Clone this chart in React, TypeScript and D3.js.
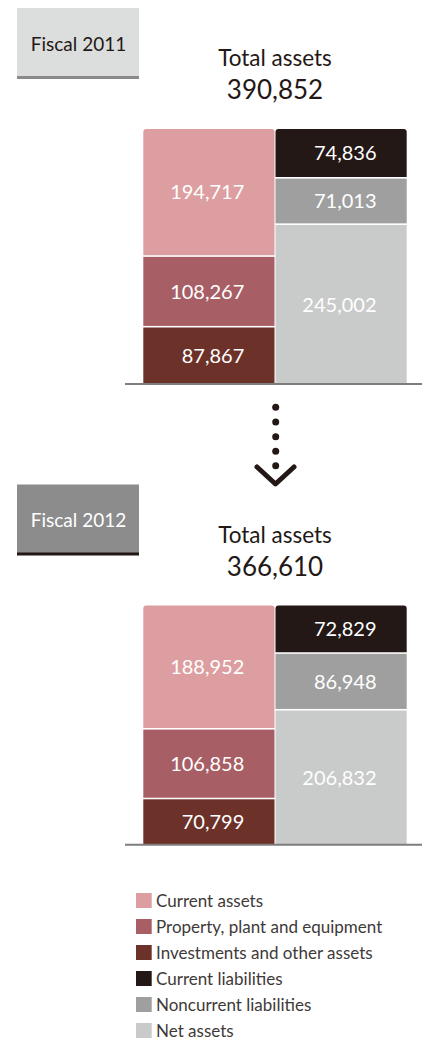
import React from "react";
import * as d3 from "d3";

const years = ["Fiscal 2011", "Fiscal 2012"];
const totals = [390852, 366610];
const assetCategories = ["Current assets", "Property, plant and equipment", "Investments and other assets"];
const liabCategories = ["Current liabilities", "Noncurrent liabilities", "Net assets"];
const currentAssets = [194717, 188952];
const ppe = [108267, 106858];
const investments = [87867, 70799];
const currentLiabilities = [74836, 72829];
const noncurrentLiabilities = [71013, 86948];
const netAssets = [245002, 206832];

const assetColors = ["#dc9ea0", "#a85e65", "#6c3229"];
const liabColors = ["#231816", "#9f9f9f", "#c9caca"];
const legendItems = [...assetCategories, ...liabCategories];
const legendColors = [...assetColors, ...liabColors];

const FONT = "Lato, 'Open Sans', sans-serif";
const fmt = d3.format(",");

function topRoundedPath(x: number, y: number, w: number, h: number, r: number) {
  return `M${x},${y + r}Q${x},${y} ${x + r},${y}H${x + w - r}Q${x + w},${y} ${x + w},${y + r}V${y + h}H${x}Z`;
}

export default function App() {
  const W = 431, H = 1041;
  const panelOffsets = [0, 476.5];
  const hScale = d3.scaleLinear().domain([0, 400000]).range([0, 261]);
  const xBand = d3.scaleBand<string>().domain(["assets", "liabilities"]).range([143.3, 406.7]).paddingInner(0.0077);
  const gap = 0.8;

  const panels = years.map((yr, i) => {
    const off = panelOffsets[i];
    const barTop = off + 129;
    const stacks = [
      { key: "assets", vals: [currentAssets[i], ppe[i], investments[i]], colors: assetColors },
      { key: "liabilities", vals: [currentLiabilities[i], noncurrentLiabilities[i], netAssets[i]], colors: liabColors },
    ];
    const baseline = barTop + hScale(totals[i]);
    const dark = i === 1;
    return (
      <g key={yr}>
        <rect x={17} y={off + 8} width={122} height={68 + (dark ? 0.5 : 0)} fill={dark ? "#8c8c8c" : "#dcdddd"} />
        <rect x={17} y={off + 76} width={122} height={3} fill={dark ? "#231815" : "#8a8a8a"} />
        <text x={78.5} y={off + 50.5} textAnchor="middle" fontFamily={FONT} fontSize={19} fill={dark ? "#ffffff" : "#231815"}>{yr}</text>
        <text x={275} y={off + 66} textAnchor="middle" fontFamily={FONT} fontSize={22.5} fill="#231815">Total assets</text>
        <text x={275} y={off + 99.3} textAnchor="middle" fontFamily={FONT} fontSize={26} fill="#231815">{fmt(totals[i])}</text>
        {stacks.map((s) => {
          const x = xBand(s.key)!;
          const w = xBand.bandwidth();
          let acc = 0;
          return (
            <g key={s.key}>
              {s.vals.map((v, j) => {
                const y0 = barTop + hScale(acc) + (j > 0 ? gap : 0);
                acc += v;
                const y1 = j === s.vals.length - 1 ? baseline : barTop + hScale(acc) - gap;
                const h = y1 - y0;
                return (
                  <g key={j}>
                    {j === 0 ? (
                      <path d={topRoundedPath(x, y0, w, h, 3)} fill={s.colors[j]} />
                    ) : (
                      <rect x={x} y={y0} width={w} height={h} fill={s.colors[j]} />
                    )}
                    <text x={x + 101} y={(y0 + y1) / 2} dy="0.36em" textAnchor="end" fontFamily={FONT} fontSize={20} fill="#ffffff">{fmt(v)}</text>
                  </g>
                );
              })}
            </g>
          );
        })}
        <line x1={125} x2={422} y1={baseline} y2={baseline} stroke="#7d7d7d" strokeWidth={2} />
      </g>
    );
  });

  const dotYs = [407.3, 422, 436.7, 451.3, 465.7];

  return (
    <svg width={W} height={H} style={{ position: "absolute", left: 0, top: 0, background: "#ffffff" }}>
      {panels}
      <g>
        {dotYs.map((y, k) => (
          <circle key={k} cx={275.7} cy={y} r={3.5} fill="#231815" />
        ))}
        <path d="M257,467 L275.5,484 L294,467" fill="none" stroke="#231815" strokeWidth={5} strokeLinecap="round" strokeLinejoin="round" />
      </g>
      <g>
        {legendItems.map((name, k) => {
          const y = 907 + k * 26;
          return (
            <g key={name}>
              <rect x={136} y={y - 14} width={15.7} height={15} fill={legendColors[k]} />
              <text x={156} y={y} fontFamily={FONT} fontSize={17} fill="#3e3a39">{name}</text>
            </g>
          );
        })}
      </g>
    </svg>
  );
}
